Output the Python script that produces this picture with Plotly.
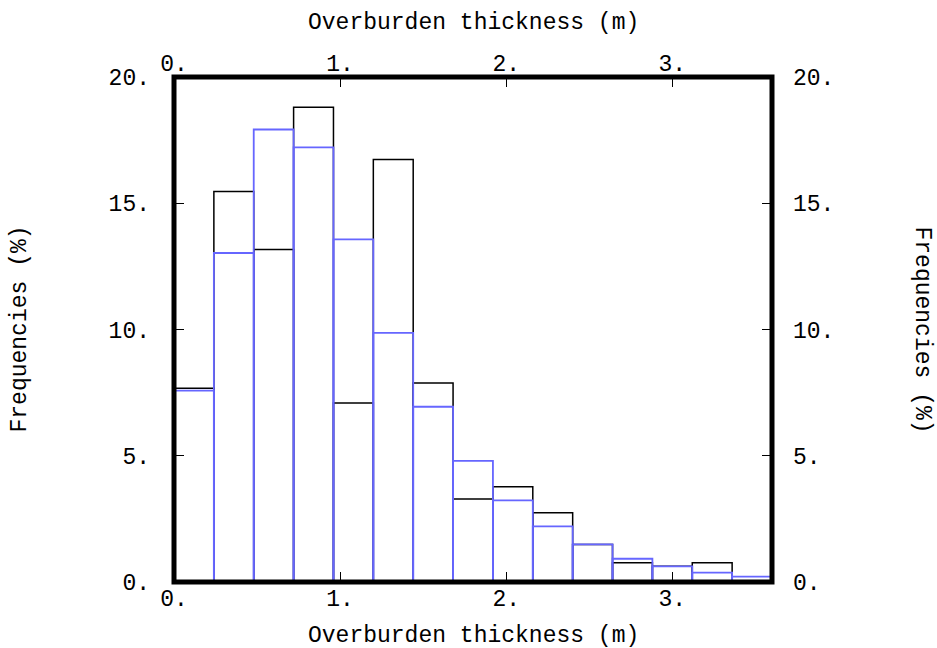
import plotly.graph_objects as go

bin_width = 0.24
bin_left = [0.0, 0.24, 0.48, 0.72, 0.96, 1.20, 1.44, 1.68, 1.92, 2.16, 2.40, 2.64, 2.88, 3.12, 3.36]
freq_black = [7.67, 15.47, 13.17, 18.80, 7.09, 16.73, 7.88, 3.29, 3.77, 2.74, 1.49, 0.76, 0.62, 0.76, None]
freq_blue = [7.58, 13.03, 17.92, 17.21, 13.57, 9.87, 6.94, 4.80, 3.23, 2.20, 1.49, 0.92, 0.62, 0.37, 0.21]

x_ticks = [0, 1, 2, 3]
x_ticktext = ["0.", "1.", "2.", "3."]
y_ticks = [0, 5, 10, 15, 20]
y_ticktext = ["0.", "5.", "10.", "15.", "20."]

FONT = "Liberation Mono"
FS = 23

fig = go.Figure()
fig.add_trace(go.Bar(x=bin_left, y=freq_black, width=bin_width, offset=0,
                     marker=dict(color="rgba(0,0,0,0)", line=dict(color="black", width=1.5)),
                     showlegend=False))
fig.add_trace(go.Bar(x=bin_left, y=freq_blue, width=bin_width, offset=0,
                     marker=dict(color="rgba(0,0,0,0)", line=dict(color="#6666ff", width=1.8)),
                     showlegend=False))
fig.add_trace(go.Scatter(x=[None], y=[None], xaxis="x2", yaxis="y2", showlegend=False))

axis_common = dict(ticks="inside", ticklen=10, tickwidth=1.3, tickcolor="black",
                   showgrid=False, zeroline=False, showline=False,
                   tickfont=dict(family=FONT, size=FS, color="black"))

title_font = dict(family=FONT, size=FS, color="black")

fig.update_layout(
    width=937, height=648,
    margin=dict(l=174, r=165, t=77, b=66),
    plot_bgcolor="white", paper_bgcolor="white",
    barmode="overlay",
    xaxis=dict(range=[0, 3.6], tickvals=x_ticks, ticktext=x_ticktext, **axis_common),
    xaxis2=dict(range=[0, 3.6], tickvals=x_ticks, ticktext=x_ticktext, overlaying="x",
                side="top", **axis_common),
    yaxis=dict(range=[0, 20], tickvals=y_ticks, ticktext=y_ticktext, ticklabelstandoff=23,
               **axis_common),
    yaxis2=dict(range=[0, 20], tickvals=y_ticks, ticktext=y_ticktext, overlaying="y",
                side="right", ticklabelstandoff=20, **axis_common),
    shapes=[dict(type="rect", xref="paper", yref="paper", x0=0, x1=1, y0=0, y1=1,
                 line=dict(color="black", width=5), layer="above")],
    annotations=[
        dict(text="Overburden thickness (m)", xref="paper", yref="paper", x=0.5, y=1,
             xanchor="center", yanchor="middle", yshift=54, showarrow=False, font=title_font),
        dict(text="Overburden thickness (m)", xref="paper", yref="paper", x=0.5, y=0,
             xanchor="center", yanchor="middle", yshift=-54, showarrow=False, font=title_font),
        dict(text="Frequencies (%)", xref="paper", yref="paper", x=0, y=0.5,
             xanchor="center", yanchor="middle", xshift=-155,
             textangle=-90, showarrow=False, font=title_font),
        dict(text="Frequencies (%)", xref="paper", yref="paper", x=1, y=0.5,
             xanchor="center", yanchor="middle", xshift=150,
             textangle=90, showarrow=False, font=title_font),
    ],
)

fig.write_html("out.html")
